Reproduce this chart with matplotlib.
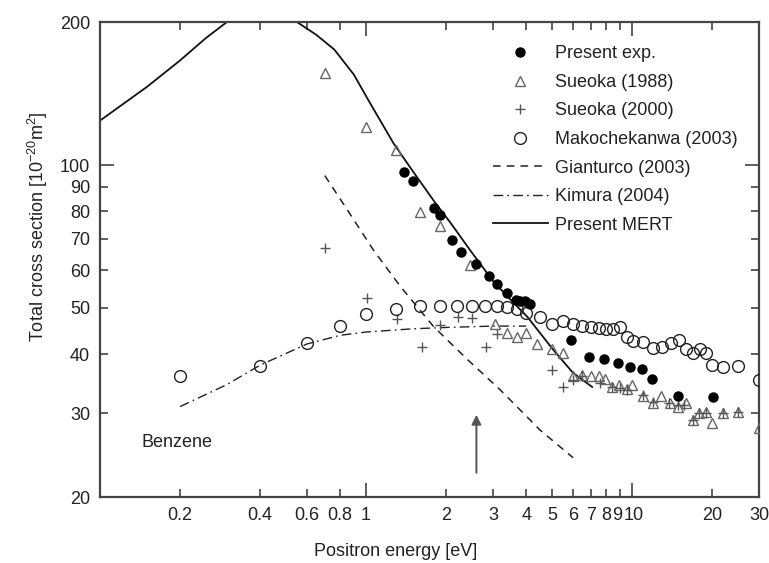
import matplotlib.pyplot as plt
from matplotlib.ticker import FixedLocator, FixedFormatter
from matplotlib.transforms import ScaledTranslation

plt.rcParams['font.family'] = ['Liberation Sans', 'DejaVu Sans']
plt.rcParams['mathtext.fontset'] = 'custom'
plt.rcParams['mathtext.rm'] = 'Liberation Sans'

# === Data ===
exp_x = [1.39, 1.50, 1.80, 1.89, 2.10, 2.27, 2.60, 2.89, 3.12, 3.40, 3.65, 3.80, 3.97, 4.15,
         5.9, 6.9, 7.85, 8.86, 9.8, 10.9, 11.9, 14.9, 20.1]
exp_y = [96.6, 92.5, 81.2, 78.6, 69.5, 65.6, 61.9, 58.4, 56.1, 53.8, 52.0, 51.6, 51.6, 50.9,
         42.8, 39.4, 39.0, 38.3, 37.6, 37.2, 35.5, 32.6, 32.4]

s88_x = [0.70, 1.00, 1.30, 1.60, 1.90, 2.45, 3.05, 3.40, 3.70, 4.00, 4.40, 5.00, 5.50, 6.00,
         6.50, 7.00, 7.50, 7.90, 8.40, 8.95, 9.60, 10.0, 11.0, 12.0, 12.9, 13.9, 14.9, 15.9,
         16.9, 17.9, 19.0, 19.9, 21.9, 25.0, 30.0]
s88_y = [156, 120, 107.6, 79.6, 74.4, 61.5, 46.3, 44.3, 43.4, 44.3, 42.0, 41.0, 40.2, 36.0,
         36.2, 36.0, 36.0, 35.5, 34.1, 34.4, 33.8, 34.4, 32.6, 31.6, 32.6, 31.6, 30.9, 31.6,
         29.0, 30.1, 30.2, 28.6, 30.1, 30.2, 27.9]

s00_x = [0.70, 1.01, 1.31, 1.62, 1.89, 2.21, 2.50, 2.82, 3.12, 5.0, 5.5, 6.0, 6.5, 7.6, 8.4,
         9.0, 9.6, 11.0, 12.0, 13.8, 14.9, 15.7, 16.9, 17.9, 19.0, 21.9, 25.0]
s00_y = [66.9, 52.5, 47.4, 41.4, 46.0, 47.9, 47.6, 41.4, 44.1, 37.0, 34.1, 35.3, 35.9, 34.8, 34.1,
         34.0, 33.6, 32.8, 31.7, 31.6, 31.2, 31.2, 29.0, 30.1, 30.1, 30.1, 30.2]

mak_x = [0.2, 0.4, 0.6, 0.8, 1.0, 1.3, 1.6, 1.9, 2.2, 2.5, 2.8, 3.1, 3.4, 3.7, 4.0, 4.5, 5.0,
         5.5, 6.0, 6.5, 7.0, 7.5, 8.0, 8.5, 9.0, 9.6, 10.1, 11, 12, 13, 14, 15, 16, 17, 18, 19,
         20, 22, 25, 30]
mak_y = [36.0, 37.8, 42.1, 45.8, 48.5, 49.8, 50.4, 50.4, 50.4, 50.4, 50.6, 50.4, 50.2, 49.8,
         48.8, 47.9, 46.2, 46.9, 46.2, 45.8, 45.6, 45.3, 45.1, 45.1, 45.6, 43.4, 42.6, 42.4,
         41.2, 41.4, 42.1, 42.8, 41.0, 40.2, 41.0, 40.2, 37.9, 37.6, 37.8, 35.2]

gia_x = [0.70, 0.85, 1.07, 1.35, 1.80, 2.40, 3.20, 4.50, 6.00]
gia_y = [95.0, 80.5, 66.0, 55.4, 45.6, 39.0, 33.6, 27.7, 24.2]

kim_x = [0.2, 0.3, 0.4, 0.6, 0.8, 1.0, 1.5, 2.0, 3.0, 4.0]
kim_y = [31.0, 34.5, 37.9, 42.0, 43.8, 44.5, 45.2, 45.5, 45.8, 45.8]

mert_x = [0.1, 0.15, 0.2, 0.25, 0.3, 0.35, 0.4, 0.47, 0.55, 0.65, 0.76, 0.9, 1.02, 1.27,
          1.5, 1.8, 2.08, 2.47, 3.0, 3.5, 4.04, 5.06, 6.0, 7.08]
mert_y = [124, 146, 166, 185, 200, 208, 210, 207, 200, 188, 175, 155, 137, 111,
          97, 84, 75.5, 66, 57, 52, 47.9, 40.8, 36.5, 34.1]

x_ticks = [0.2, 0.4, 0.6, 0.8, 1, 2, 3, 4, 5, 6, 7, 8, 9, 10, 20, 30]
x_labels = ['0.2', '0.4', '0.6', '0.8', '1', '2', '3', '4', '5', '6', '7', '8', '9', '10', '20', '30']
y_ticks = [20, 30, 40, 50, 60, 70, 80, 90, 100, 200]
y_labels = ['20', '30', '40', '50', '60', '70', '80', '90', '100', '200']

arrow_x = 2.6
arrow_y = (22.2, 30.2)

TXT = '#222222'
FS = 13

fig = plt.figure(figsize=(7.69, 5.63), dpi=100)
ax = fig.add_axes([0.130, 0.1172, 0.857, 0.8437])

ax.plot(exp_x, exp_y, 'o', color='black', ms=6.5, label='Present exp.', zorder=5)
ax.plot(s88_x, s88_y, '^', mfc='none', mec='#666666', mew=1.0, ms=7.5, label='Sueoka (1988)', zorder=4)
ax.plot(s00_x, s00_y, '+', color='#555555', mew=1.0, ms=7, label='Sueoka (2000)', zorder=4)
ax.plot(mak_x, mak_y, 'o', mfc='none', mec='#222222', mew=1.0, ms=8.5, label='Makochekanwa (2003)', zorder=4)
ax.plot(gia_x, gia_y, color='#222222', lw=1.1, ls=(0, (5, 4)), label='Gianturco (2003)')
ax.plot(kim_x, kim_y, color='#222222', lw=1.0, ls=(0, (7, 3, 1.2, 3)), label='Kimura (2004)')
ax.plot(mert_x, mert_y, color='#111111', lw=1.3, label='Present MERT')

ax.annotate('', xy=(arrow_x, arrow_y[1]), xytext=(arrow_x, arrow_y[0]),
            arrowprops=dict(arrowstyle='-|>', color='#555555', lw=1.4, mutation_scale=14))
ax.text(0.1436, 26.1, 'Benzene', fontsize=FS, color=TXT, va='center', ha='left')

ax.set_xscale('log')
ax.set_yscale('log')
ax.set_xlim(0.1, 30)
ax.set_ylim(20, 200)

ax.xaxis.set_major_locator(FixedLocator([1, 10]))
ax.xaxis.set_minor_locator(FixedLocator([t for t in x_ticks if t not in (1, 10)]))
ax.xaxis.set_major_formatter(FixedFormatter(['1', '10']))
ax.xaxis.set_minor_formatter(FixedFormatter([l for t, l in zip(x_ticks, x_labels) if t not in (1, 10)]))
ax.yaxis.set_major_locator(FixedLocator([100]))
ax.yaxis.set_minor_locator(FixedLocator([t for t in y_ticks if t != 100]))
ax.yaxis.set_major_formatter(FixedFormatter(['100']))
ax.yaxis.set_minor_formatter(FixedFormatter([l for t, l in zip(y_ticks, y_labels) if t != 100]))

ax.tick_params(which='both', direction='in', top=True, right=True, labelsize=FS,
               colors='#333333', labelcolor=TXT, width=1.1, pad=7)
ax.tick_params(which='major', length=10)
ax.tick_params(which='minor', length=6)
for s in ax.spines.values():
    s.set_linewidth(1.6)
    s.set_color('#444444')

ax.set_xlabel('Positron energy [eV]', fontsize=FS, color=TXT)
ax.set_ylabel(r'Total cross section [10$^{\mathregular{-20}}$m$^{\mathregular{2}}$]', fontsize=FS, color=TXT)
ax.xaxis.set_label_coords(0.448, -0.097)
ax.yaxis.set_label_coords(-0.076, 0.568)

ax.legend(loc='upper left', bbox_to_anchor=(0.596, 0.951), frameon=False, fontsize=FS,
          handlelength=3.05, handletextpad=0.4, labelspacing=0.64, borderpad=0, borderaxespad=0,
          labelcolor=TXT)

# "9" and "10" sit very close on the log axis: nudge them apart a little
fig.canvas.draw()
for tick in ax.xaxis.get_minor_ticks():
    if tick.label1.get_text() == '9':
        tick.label1.set_transform(tick.label1.get_transform() + ScaledTranslation(-2.5 / 100, 0, fig.dpi_scale_trans))
for tick in ax.xaxis.get_major_ticks():
    if tick.label1.get_text() == '10':
        tick.label1.set_transform(tick.label1.get_transform() + ScaledTranslation(1.5 / 100, 0, fig.dpi_scale_trans))

plt.savefig('out.png', dpi=100)
